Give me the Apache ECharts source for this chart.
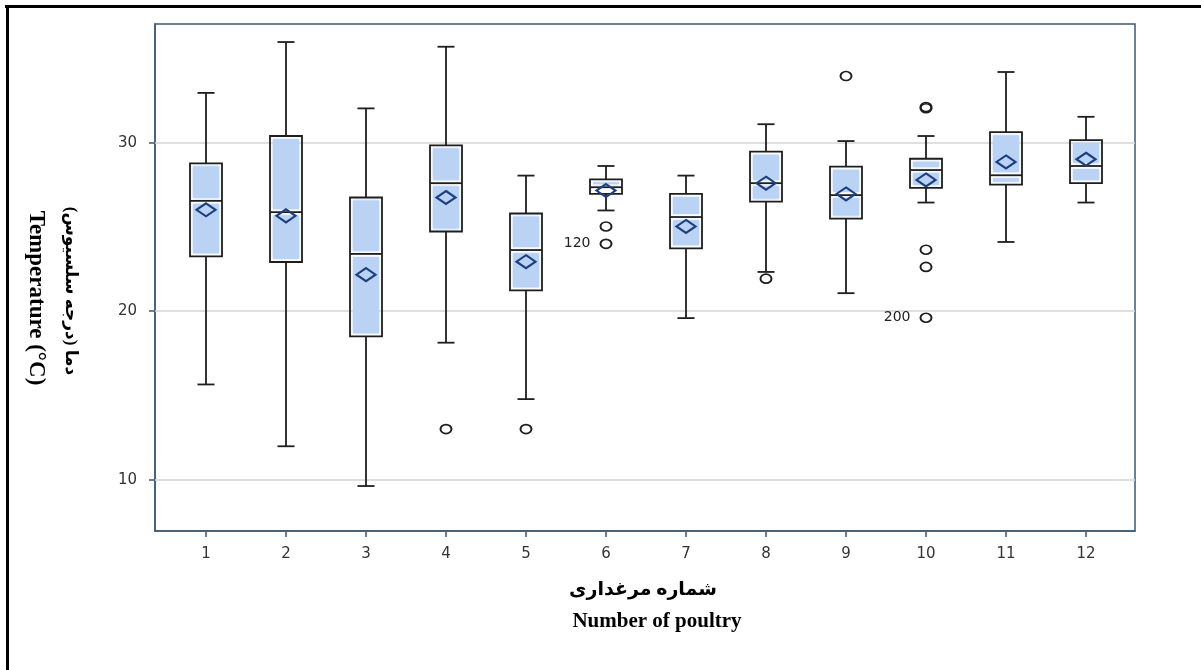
<!DOCTYPE html>
<html><head><meta charset="utf-8">
<script src="https://cdn.jsdelivr.net/npm/echarts@6/dist/echarts.min.js"></script>
<style>html,body{margin:0;padding:0;background:#fff}#c{width:1201px;height:670px}</style>
</head><body><div id="c"></div>
<script>
const categories = [1, 2, 3, 4, 5, 6, 7, 8, 9, 10, 11, 12];
const whiskerLow  = [15.65, 11.98, 9.62, 18.13, 14.78, 25.98, 19.59, 22.33, 21.07, 26.45, 24.11, 26.45];
const q1          = [23.25, 22.92, 18.50, 24.73, 21.23, 26.96, 23.73, 26.51, 25.50, 27.32, 27.51, 27.60];
const median      = [26.55, 25.88, 23.40, 27.60, 23.63, 27.36, 25.59, 27.60, 26.89, 28.38, 28.07, 28.62];
const q3          = [28.78, 30.40, 26.75, 29.85, 25.80, 27.83, 26.96, 29.47, 28.58, 29.05, 30.63, 30.16];
const whiskerHigh = [32.96, 35.98, 32.04, 35.70, 28.05, 28.62, 28.05, 31.10, 30.10, 30.40, 34.20, 31.54];
const means       = [26.02, 25.66, 22.17, 26.75, 22.94, 27.16, 25.03, 27.60, 26.96, 27.79, 28.86, 29.02];
const outlierCat  = [4, 5, 6, 6, 8, 9, 10, 10, 10, 10, 10];
const outlierVal  = [13.0, 13.0, 25.03, 24.0, 21.93, 33.96, 32.12, 32.05, 23.65, 22.63, 19.61];
const outlierTag  = ['', '', '', '120', '', '', '', '', '', '', '200'];
const yTicks = [10, 20, 30];
const yTitleEn = 'Temperature (°C)';
const yTitleFa = 'دما (درجه سلسیوس)';
const xTitleEn = 'Number of poultry';
const xTitleFa = 'شماره مرغداری';

const frameColor = '#3d5a72';
const boxFill = '#bad3f5';
const ink = '#1e1e1e';

function renderBox(params, api) {
  const x = api.value(0);
  const lo = api.coord([x, api.value(1)]);
  const b1 = api.coord([x, api.value(2)]);
  const md = api.coord([x, api.value(3)]);
  const b3 = api.coord([x, api.value(4)]);
  const hi = api.coord([x, api.value(5)]);
  const cx = md[0];
  const hw = 16, cap = 8.5, pad = 3;
  const children = [];
  function addFill(yTop, yBot) {
    if (yBot - yTop > 0.8) {
      children.push({type: 'rect', shape: {x: cx - hw + pad, y: yTop, width: 2 * (hw - pad), height: yBot - yTop},
        style: {fill: boxFill, shadowBlur: 3, shadowColor: boxFill}});
    }
  }
  addFill(b3[1] + pad, md[1] - pad);
  addFill(md[1] + pad, b1[1] - pad);
  const st = {stroke: ink, lineWidth: 1.8, fill: null};
  children.push({type: 'rect', shape: {x: cx - hw, y: b3[1], width: 2 * hw, height: b1[1] - b3[1]}, style: st});
  children.push({type: 'line', shape: {x1: cx - hw, y1: md[1], x2: cx + hw, y2: md[1]}, style: st});
  children.push({type: 'line', shape: {x1: cx, y1: b3[1], x2: cx, y2: hi[1]}, style: st});
  children.push({type: 'line', shape: {x1: cx, y1: b1[1], x2: cx, y2: lo[1]}, style: st});
  children.push({type: 'line', shape: {x1: cx - cap, y1: hi[1], x2: cx + cap, y2: hi[1]}, style: st});
  children.push({type: 'line', shape: {x1: cx - cap, y1: lo[1], x2: cx + cap, y2: lo[1]}, style: st});
  return {type: 'group', children: children};
}

const boxData = categories.map((c, i) => [c, whiskerLow[i], q1[i], median[i], q3[i], whiskerHigh[i]]);
const meanData = categories.map((c, i) => [c, means[i]]);
const outlierData = outlierCat.map((c, i) => {
  const item = {value: [c, outlierVal[i]]};
  if (outlierTag[i]) item.label = {show: true, formatter: outlierTag[i], position: 'left', distance: 9,
    fontSize: 14, color: '#222', fontFamily: 'DejaVu Sans'};
  return item;
});

const chart = echarts.init(document.getElementById('c'), null, {renderer: 'canvas'});
chart.setOption({
  animation: false,
  backgroundColor: '#fff',
  grid: {left: 155, top: 24, width: 980, height: 507, show: true, borderColor: frameColor, borderWidth: 1.5, backgroundColor: 'transparent'},
  xAxis: {
    type: 'value', min: 0.3625, max: 12.6125,
    splitLine: {show: false},
    axisLine: {show: true, lineStyle: {color: frameColor, width: 1.5}},
    axisTick: {show: true, customValues: categories, length: 6, lineStyle: {color: frameColor, width: 1.5}},
    axisLabel: {customValues: categories, fontSize: 15, color: '#333', margin: 16, fontFamily: 'DejaVu Sans'}
  },
  yAxis: {
    type: 'value', min: 6.95, max: 37.05,
    splitLine: {show: false},
    axisLine: {show: true, lineStyle: {color: frameColor, width: 1.5}},
    axisTick: {show: true, customValues: yTicks, length: 6, lineStyle: {color: frameColor, width: 1.5}},
    axisLabel: {customValues: yTicks, fontSize: 15, color: '#333', margin: 18, fontFamily: 'DejaVu Sans'}
  },
  series: [
    {
      type: 'custom', z: 3, data: boxData, renderItem: renderBox,
      encode: {x: 0, y: [1, 2, 3, 4, 5]},
      markLine: {z: 1, silent: true, symbol: 'none', label: {show: false},
        lineStyle: {color: '#d4d4d4', width: 1.5, type: 'solid'},
        data: yTicks.map(v => ({yAxis: v}))}
    },
    {
      type: 'scatter', z: 5, data: meanData, symbol: 'diamond', symbolSize: [19, 13],
      itemStyle: {color: 'rgba(0,0,0,0)', borderColor: '#1d3f7d', borderWidth: 2.2, opacity: 1}
    },
    {
      type: 'scatter', z: 5, data: outlierData, symbol: 'circle', symbolSize: [11, 9],
      itemStyle: {color: 'rgba(0,0,0,0)', borderColor: ink, borderWidth: 1.8, opacity: 1}
    }
  ],
  graphic: [
    {type: 'line', shape: {x1: 5, y1: 6.5, x2: 1201, y2: 6.5}, style: {stroke: '#000', lineWidth: 3}},
    {type: 'line', shape: {x1: 7.5, y1: 5, x2: 7.5, y2: 670}, style: {stroke: '#000', lineWidth: 3}},
    {type: 'text', x: 70, y: 291, rotation: -Math.PI / 2,
      style: {text: yTitleFa, fill: '#000', font: 'bold 17px "Liberation Serif", "DejaVu Sans", serif', align: 'center', verticalAlign: 'middle'}},
    {type: 'text', x: 36, y: 298, rotation: -Math.PI / 2,
      style: {text: yTitleEn, fill: '#000', font: 'bold 23px "Liberation Serif", serif', align: 'center', verticalAlign: 'middle'}},
    {type: 'text', x: 643, y: 590,
      style: {text: xTitleFa, fill: '#000', font: 'bold 19px "Liberation Serif", "DejaVu Sans", serif', align: 'center', verticalAlign: 'middle'}},
    {type: 'text', x: 657, y: 622,
      style: {text: xTitleEn, fill: '#000', font: 'bold 21px "Liberation Serif", serif', align: 'center', verticalAlign: 'middle'}}
  ]
});
</script>
</body></html>
